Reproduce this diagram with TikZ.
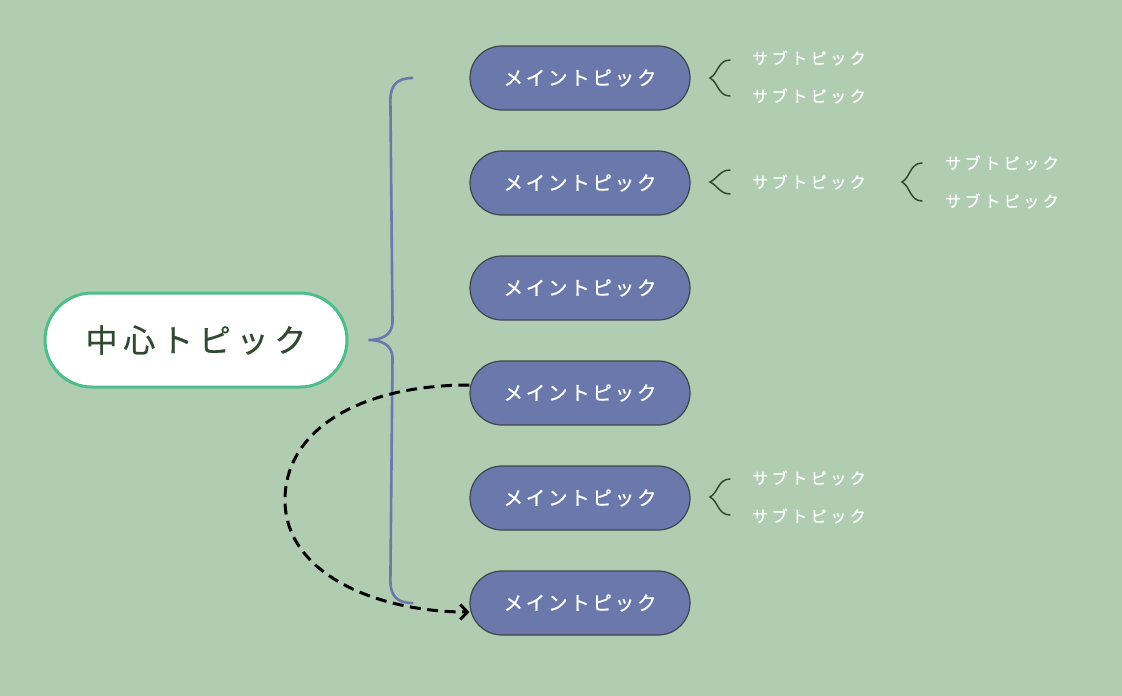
\documentclass[tikz,border=0pt]{standalone}
\usepackage{fontspec}
\setmainfont{Noto Sans CJK JP}
\newfontfamily\centerfont[LetterSpace=18,FakeBold=0.6]{Noto Sans CJK JP}
\newfontfamily\mainfont[LetterSpace=14,FakeBold=0.9]{Noto Sans CJK JP}
\newfontfamily\subfont[LetterSpace=22,FakeBold=0.9]{Noto Sans CJK JP}
\usetikzlibrary{positioning,calc,arrows.meta}
\definecolor{bgcol}{HTML}{B0CDB2}
\definecolor{maincol}{HTML}{6A78AC}
\definecolor{edgecol}{HTML}{3C4848}
\definecolor{centeredge}{HTML}{4DBE8A}
\definecolor{darktext}{HTML}{2F4A30}
\tikzset{
  centerbox/.style={draw=centeredge, line width=3pt, fill=white, rounded corners=47pt,
    minimum width=302pt, minimum height=94pt, inner sep=0pt,
    text=darktext, font=\centerfont\fontsize{32}{32}\selectfont},
  mainbox/.style={draw=edgecol, line width=1.2pt, fill=maincol, rounded corners=32pt,
    minimum width=220pt, minimum height=64pt, inner sep=0pt,
    text=white, font=\mainfont\fontsize{19.5}{19.5}\selectfont},
  subtext/.style={anchor=west, inner sep=0pt, text=white, font=\subfont\fontsize{16}{16}\selectfont},
  bigbrace/.style={draw=maincol, line width=2.6pt, line cap=round},
  subbrace/.style={draw=darktext, line width=1.5pt, line cap=round},
  looparrow/.style={draw=black, line width=3pt, dash pattern=on 11pt off 6.5pt,
    -{Straight Barb[length=7pt,width=15pt]}},
}
\begin{document}
\begin{tikzpicture}[x=1pt, y=-1pt]
  \fill[bgcol] (0,0) rectangle (1122,696);
  \useasboundingbox (0,0) rectangle (1122,696);
  % central topic
  \node[centerbox] (c) at (196,340) {中心トピック};
  % main topics
  \foreach \i/\y in {1/78,2/183,3/288,4/393,5/498,6/603}
    \node[mainbox] (m\i) at (580,\y) {メイントピック};
  % brace from the central topic
  \coordinate (tip) at ([xshift=20pt]c.east);
  \coordinate (bt) at ([xshift=-57pt]m1.west);
  \coordinate (bb) at ([xshift=-57pt]m6.west);
  \draw[bigbrace] (bt) .. controls +(-15,0) and +(0,-15) .. ($(bt)+(-22,22)$)
    -- ($(tip)+(24,-18)$) .. controls +(0,13) and +(13,0) .. (tip)
    .. controls +(13,0) and +(0,-13) .. ($(tip)+(24,18)$)
    -- ($(bb)+(-22,-22)$) .. controls +(0,15) and +(-15,0) .. (bb);
  % sub topics
  \coordinate (b1) at (710,78);
  \coordinate (b2) at (710,182);
  \coordinate (b3) at (902,182);
  \coordinate (b5) at (710,497);
  \draw[subbrace] (b1) ++(20,-18) .. controls +(-12,0) and +(8,-4) .. (b1)
    .. controls +(8,4) and +(-12,0) .. ++(20,18);
  \draw[subbrace] (b2) ++(20,-12) .. controls +(-10,0) and +(7,-3) .. (b2)
    .. controls +(7,3) and +(-10,0) .. ++(20,12);
  \draw[subbrace] (b3) ++(20,-19) .. controls +(-12,0) and +(8,-4) .. (b3)
    .. controls +(8,4) and +(-12,0) .. ++(20,19);
  \draw[subbrace] (b5) ++(20,-18) .. controls +(-12,0) and +(8,-4) .. (b5)
    .. controls +(8,4) and +(-12,0) .. ++(20,18);
  \node[subtext] (s1a) at (752,58) {サブトピック};
  \node[subtext] (s1b) at (752,96) {サブトピック};
  \node[subtext] (s2) at (752,182) {サブトピック};
  \node[subtext] (s3a) at (945,163) {サブトピック};
  \node[subtext] (s3b) at (945,201) {サブトピック};
  \node[subtext] (s5a) at (752,478) {サブトピック};
  \node[subtext] (s5b) at (752,516) {サブトピック};
  % dashed link
  \coordinate (lp) at (285,500);
  \draw[looparrow] ([yshift=8pt]m4.west) .. controls +(-110,0) and +(0,-70) .. (lp)
    .. controls +(0,75) and +(-90,0) .. ([yshift=-9pt]m6.west);
\end{tikzpicture}
\end{document}
